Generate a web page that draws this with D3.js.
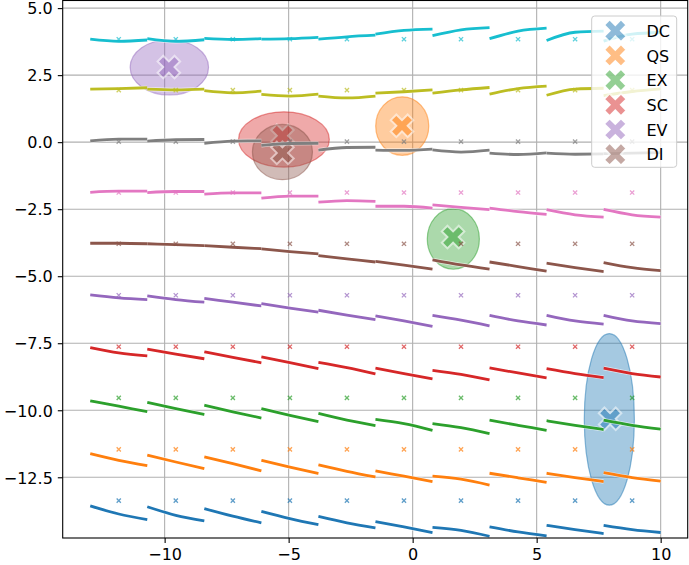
<!DOCTYPE html>
<html>
<head>
<meta charset="utf-8">
<script src="https://cdn.jsdelivr.net/npm/d3@7/dist/d3.min.js"></script>
<style>
    html, body { margin: 0; padding: 0; background: #fff; }
    svg { display: block; font-family: "DejaVu Sans", sans-serif; }
    .tick text { font-size: 16px; fill: #000; }
</style>
</head>
<body>
<svg id="chart" width="689" height="565"></svg>
<script>
    // cell borders along x and the reference (x) marker grid
    var xBreaks = [-13, -10.7, -8.4, -6.1, -3.8, -1.5, 0.8, 3.1, 5.4, 7.7, 10];
    var markerX = [-11.85, -9.55, -7.25, -4.95, -2.65, -0.35, 1.95, 4.25, 6.55, 8.85];
    var markerY = [-13.37, -11.46, -9.54, -7.63, -5.71, -3.79, -1.88, 0.02, 1.94, 3.84];

    var xTicks = [-10, -5, 0, 5, 10];
    var yTicks = [-12.5, -10, -7.5, -5, -2.5, 0, 2.5, 5];

    // per row, per cell: [start, middle, end]
    var blueRow = [[-13.57, -13.87, -14.08], [-13.60, -13.92, -14.13], [-13.67, -13.95, -14.20], [-13.77, -14.04, -14.27], [-13.96, -14.20, -14.39],
        [-14.15, -14.35, -14.56], [-14.37, -14.48, -14.70], [-14.35, -14.54, -14.69], [-14.29, -14.45, -14.60], [-14.29, -14.45, -14.56]];
    var orangeRow = [[-11.62, -11.87, -12.07], [-11.67, -11.93, -12.18], [-11.74, -11.99, -12.26], [-11.87, -12.12, -12.36], [-12.04, -12.28, -12.49],
        [-12.26, -12.46, -12.66], [-12.46, -12.57, -12.79], [-12.35, -12.52, -12.69], [-12.35, -12.51, -12.66], [-12.33, -12.51, -12.64]];
    var greenRow = [[-9.65, -9.85, -10.05], [-9.71, -9.94, -10.16], [-9.81, -10.06, -10.29], [-9.94, -10.19, -10.42], [-10.12, -10.37, -10.57],
        [-10.34, -10.50, -10.75], [-10.50, -10.65, -10.87], [-10.37, -10.56, -10.75], [-10.39, -10.56, -10.72], [-10.37, -10.56, -10.70]];
    var redRow = [[-7.66, -7.86, -7.97], [-7.72, -7.91, -8.08], [-7.82, -8.03, -8.23], [-8.01, -8.22, -8.45], [-8.21, -8.41, -8.64],
        [-8.43, -8.63, -8.83], [-8.51, -8.66, -8.87], [-8.42, -8.61, -8.79], [-8.45, -8.63, -8.78], [-8.43, -8.63, -8.76]];
    var purpleRow = [[-5.70, -5.81, -5.87], [-5.73, -5.87, -5.97], [-5.83, -5.97, -6.11], [-6.02, -6.19, -6.34], [-6.27, -6.45, -6.62],
        [-6.48, -6.67, -6.87], [-6.46, -6.64, -6.85], [-6.46, -6.67, -6.82], [-6.46, -6.67, -6.79], [-6.46, -6.67, -6.77]];
    var brownRow = [[-3.77, -3.77, -3.79], [-3.79, -3.82, -3.86], [-3.86, -3.92, -3.97], [-3.98, -4.08, -4.17], [-4.23, -4.35, -4.47],
        [-4.45, -4.59, -4.74], [-4.39, -4.58, -4.74], [-4.47, -4.64, -4.81], [-4.51, -4.68, -4.83], [-4.49, -4.68, -4.79]];
    var pinkRow = [[-1.87, -1.83, -1.83], [-1.88, -1.84, -1.84], [-1.94, -1.89, -1.89], [-2.09, -2.01, -2.01], [-2.24, -2.18, -2.21],
        [-2.39, -2.39, -2.46], [-2.34, -2.43, -2.52], [-2.46, -2.59, -2.69], [-2.52, -2.71, -2.80], [-2.51, -2.71, -2.80]];
    var grayRow = [[0.05, 0.11, 0.11], [0.04, 0.09, 0.10], [-0.04, 0.04, 0.05], [-0.12, -0.05, -0.04], [-0.30, -0.20, -0.19],
        [-0.30, -0.31, -0.26], [-0.29, -0.37, -0.30], [-0.41, -0.46, -0.40], [-0.41, -0.45, -0.44], [-0.43, -0.41, -0.39]];
    var oliveRow = [[1.98, 2.00, 2.03], [1.98, 1.95, 1.98], [1.92, 1.84, 1.90], [1.78, 1.72, 1.79], [1.72, 1.65, 1.72],
        [1.83, 1.88, 1.95], [1.83, 1.95, 2.04], [1.79, 2.00, 2.09], [1.75, 1.98, 2.01], [1.74, 1.89, 1.99]];
    var cyanRow = [[3.84, 3.76, 3.81], [3.86, 3.76, 3.82], [3.87, 3.83, 3.86], [3.84, 3.86, 3.91], [3.84, 3.93, 3.99],
        [4.03, 4.17, 4.22], [3.97, 4.19, 4.27], [3.86, 4.14, 4.25], [3.79, 4.10, 4.14], [3.77, 4.03, 4.09]];

    var rows = [blueRow, orangeRow, greenRow, redRow, purpleRow, brownRow, pinkRow, grayRow, oliveRow, cyanRow];
    var rowColors = d3.schemeCategory10;

    // clusters (ellipse + big X)
    var clusterNames = ['DC', 'QS', 'EX', 'SC', 'EV', 'DI'];
    var ellipseX = [7.93, -0.42, 1.64, -5.19, -9.81, -5.25];
    var ellipseY = [-10.34, 0.60, -3.61, 0.10, 2.79, -0.37];
    var ellipseRx = [1.01, 1.07, 1.05, 1.83, 1.58, 1.21];
    var ellipseRy = [3.20, 1.09, 1.13, 1.03, 1.03, 1.03];
    var centerX = [7.96, -0.43, 1.63, -5.25, -9.83, -5.25];
    var centerY = [-10.32, 0.61, -3.54, 0.24, 2.80, -0.40];

    var plot = {left: 62.7, right: 687.7, top: 0.5, bottom: 538};

    var x = d3.scaleLinear().domain([-14.11, 11.09]).range([plot.left, plot.right]);
    var y = d3.scaleLinear().domain([-14.765, 5.284]).range([plot.bottom, plot.top]);

    var svg = d3.select('#chart');

    // grid
    var grid = svg.append('g').attr('class', 'grid')
        .attr('stroke', '#b0b0b0').attr('stroke-width', 1.1);
    grid.selectAll('line.gx').data(xTicks).enter().append('line')
        .attr('x1', function(d) { return x(d); }).attr('x2', function(d) { return x(d); })
        .attr('y1', plot.top).attr('y2', plot.bottom);
    grid.selectAll('line.gy').data(yTicks).enter().append('line')
        .attr('y1', function(d) { return y(d); }).attr('y2', function(d) { return y(d); })
        .attr('x1', plot.left).attr('x2', plot.right);

    // filled matplotlib 'X' marker, size in px
    function xMarkerPath(size) {
        var pts = [[-1, -3], [-1, -1], [-3, -1], [-3, 1], [-1, 1], [-1, 3], [1, 3], [1, 1], [3, 1], [3, -1], [1, -1], [1, -3]];
        var c = Math.SQRT1_2;
        return 'M' + pts.map(function(p) {
            var px = (p[0] * c - p[1] * c) * size / 6;
            var py = (p[0] * c + p[1] * c) * size / 6;
            return px.toFixed(2) + ',' + py.toFixed(2);
        }).join('L') + 'Z';
    }

    var clusters = svg.append('g').attr('class', 'clusters');
    clusterNames.forEach(function(name, i) {
        var col = rowColors[i];
        clusters.append('ellipse')
            .attr('cx', x(ellipseX[i])).attr('cy', y(ellipseY[i]))
            .attr('rx', x(ellipseRx[i]) - x(0)).attr('ry', y(0) - y(ellipseRy[i]))
            .attr('fill', col).attr('fill-opacity', 0.4)
            .attr('stroke', col).attr('stroke-opacity', 0.5).attr('stroke-width', 1.2);
        clusters.append('path')
            .attr('d', xMarkerPath(24))
            .attr('transform', 'translate(' + x(centerX[i]) + ',' + y(centerY[i]) + ')')
            .attr('fill', col).attr('stroke', '#fff').attr('stroke-width', 2)
            .attr('opacity', 0.5);
    });

    // trajectories, one short curve per cell
    var line = d3.line()
        .x(function(d) { return x(d[0]); })
        .y(function(d) { return y(d[1]); })
        .curve(d3.curveMonotoneX);

    var traces = svg.append('g').attr('class', 'traces').attr('fill', 'none');
    rows.forEach(function(row, r) {
        row.forEach(function(seg, c) {
            var x0 = xBreaks[c], x1 = xBreaks[c + 1];
            var pts = [[x0, seg[0]], [(x0 + x1) / 2, seg[1]], [x1, seg[2]]];
            traces.append('path').attr('d', line(pts))
                .attr('stroke', '#fff').attr('stroke-opacity', 0.6).attr('stroke-width', 4.2);
            traces.append('path').attr('d', line(pts))
                .attr('stroke', rowColors[r]).attr('stroke-width', 2.8);
        });
    });

    // small x markers
    var smallX = svg.append('g').attr('class', 'small-markers').attr('stroke-width', 1.3).attr('opacity', 0.7);
    markerY.forEach(function(my, r) {
        markerX.forEach(function(mx) {
            var cx = x(mx), cy = y(my), h = 2.1;
            smallX.append('path')
                .attr('d', 'M' + (cx - h) + ',' + (cy - h) + 'L' + (cx + h) + ',' + (cy + h) +
                    'M' + (cx - h) + ',' + (cy + h) + 'L' + (cx + h) + ',' + (cy - h))
                .attr('stroke', rowColors[r]);
        });
    });

    // axes
    var xAxis = d3.axisBottom(x).tickValues(xTicks).tickSize(4.9).tickPadding(4).tickFormat(d3.format('d'));
    var yAxis = d3.axisLeft(y).tickValues(yTicks).tickSize(4.9).tickPadding(5).tickFormat(d3.format('.1f'));

    var gx = svg.append('g').attr('transform', 'translate(0,' + plot.bottom + ')').call(xAxis);
    var gy = svg.append('g').attr('transform', 'translate(' + plot.left + ',0)').call(yAxis);
    [gx, gy].forEach(function(g) {
        g.select('.domain').remove();
        g.attr('font-family', null).attr('font-size', null);
        g.selectAll('.tick line').attr('stroke', '#000').attr('stroke-width', 1.1);
    });
    gx.selectAll('.tick text').attr('dy', '0.84em');
    gy.selectAll('.tick text').attr('dy', '0.36em');

    svg.append('rect')
        .attr('x', plot.left).attr('y', plot.top)
        .attr('width', plot.right - plot.left).attr('height', plot.bottom - plot.top)
        .attr('fill', 'none').attr('stroke', '#000').attr('stroke-width', 1.1);

    // legend
    var legend = svg.append('g').attr('class', 'legend');
    legend.append('rect')
        .attr('x', 591.7).attr('y', 16).attr('width', 85).attr('height', 151.3)
        .attr('rx', 3).attr('fill', '#fff').attr('fill-opacity', 0.8)
        .attr('stroke', '#cccccc').attr('stroke-width', 1);
    clusterNames.forEach(function(name, i) {
        var ly = 30.7 + i * 24.7;
        legend.append('path')
            .attr('d', xMarkerPath(24))
            .attr('transform', 'translate(615.3,' + ly + ')')
            .attr('fill', rowColors[i]).attr('stroke', '#fff').attr('stroke-width', 2)
            .attr('opacity', 0.5);
        legend.append('text')
            .attr('x', 646.5).attr('y', ly + 6.2)
            .attr('font-size', 16).attr('fill', '#000')
            .text(name);
    });
</script>
</body>
</html>
